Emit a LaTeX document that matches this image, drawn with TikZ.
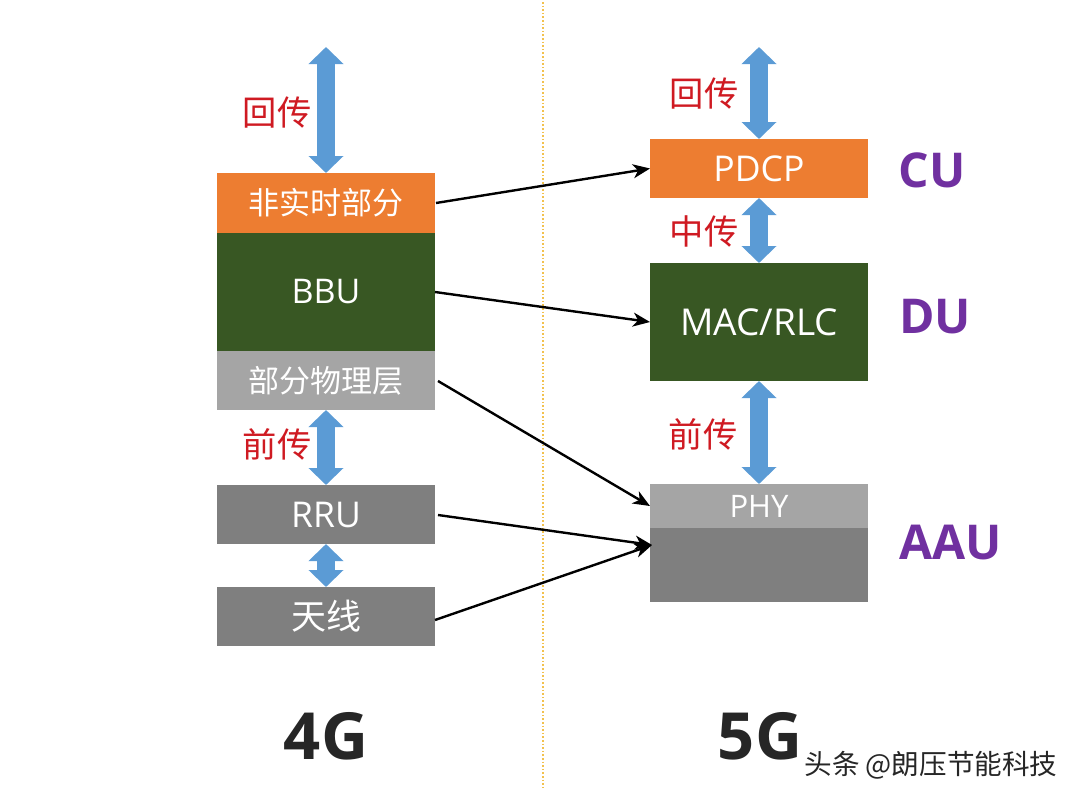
\documentclass[tikz,border=0pt]{standalone}
\usepackage{fontspec}
\setmainfont{Open Sans}
\newfontfamily\cjk{Noto Sans CJK SC}
\usetikzlibrary{arrows.meta}
\definecolor{cOrange}{HTML}{ED7D31}
\definecolor{cGreen}{HTML}{385723}
\definecolor{cLight}{HTML}{A5A5A5}
\definecolor{cDark}{HTML}{7F7F7F}
\definecolor{cBlue}{HTML}{5B9BD5}
\definecolor{cRed}{HTML}{CF1A22}
\definecolor{cPurple}{HTML}{7030A0}
\definecolor{cInk}{HTML}{262626}
\definecolor{cDots}{HTML}{F2C14E}
\newcommand{\lowered}[1]{\raisebox{-1.5pt}{#1}}
\tikzset{
  x=1pt,y=-1pt,
  block/.style={anchor=north west,inner sep=0,outer sep=0,text=white,align=center},
  latin/.style={font=\fontsize{35.5}{37}\selectfont},
  han/.style={font=\fontsize{31}{33}\selectfont\cjk},
  hanbig/.style={font=\fontsize{35}{37}\selectfont\cjk},
  rlabel/.style={text=cRed,inner sep=0,font=\fontsize{34.3}{36}\selectfont\cjk},
  tag/.style={text=cPurple,inner sep=0,font=\fontsize{48}{50}\selectfont\bfseries},
  gen/.style={text=cInk,inner sep=0,font=\fontsize{65}{67}\selectfont\bfseries},
  link/.style={draw=cBlue,line width=18pt,{Triangle[width=34pt,length=17pt,sep=0pt]}-{Triangle[width=34pt,length=17pt,sep=0pt]}},
  feed/.style={draw=black,line width=2.4pt,-{Stealth[length=17pt,width=14pt,inset=5pt]}}
}
\begin{document}
\begin{tikzpicture}
\useasboundingbox (0,0) rectangle (1080,801);
\draw[cDots,line width=1.6pt,dotted] (543,2) coordinate (divtop) -- (543,790) coordinate (divbot);
% 4G column
\node[block,fill=cOrange,minimum width=218pt,minimum height=60pt,han] (nrt) at (217,173) {\lowered{非实时部分}};
\node[block,fill=cGreen,minimum width=218pt,minimum height=118pt,font=\fontsize{34}{36}\selectfont] (bbu) at (217,233) {\lowered{BBU}};
\node[block,fill=cLight,minimum width=218pt,minimum height=59pt,han] (pphy) at (217,351) {部分物理层};
\node[block,fill=cDark,minimum width=218pt,minimum height=59pt,latin] (rru) at (217,485) {RRU};
\node[block,fill=cDark,minimum width=218pt,minimum height=59pt,hanbig] (ant) at (217,587) {\lowered{天线}};
% 5G column
\node[block,fill=cOrange,minimum width=218pt,minimum height=59pt,latin] (pdcp) at (650,139) {PDCP};
\node[block,fill=cGreen,minimum width=218pt,minimum height=118pt,font=\fontsize{37}{39}\selectfont] (mac) at (650,263) {MAC/RLC};
\node[block,fill=cLight,minimum width=218pt,minimum height=44pt,font=\fontsize{31}{33}\selectfont] (phy) at (650,484) {PHY};
\node[block,fill=cDark,minimum width=218pt,minimum height=74pt] (aau) at (650,528) {};
% free ends
\coordinate (backL) at (326,47);
\coordinate (backR) at (759,47);
\coordinate (nrtOut) at (436,203);
\coordinate (pphyOut) at (438,381);
\coordinate (antOut) at (435,620);
\coordinate (rruOut) at (438,515);
\coordinate (aauIn) at (652,545);
% blue links
\draw[link] (backL) -- (nrt.north);
\draw[link] (pphy.south) -- (rru.north);
\draw[link] (rru.south) -- (ant.north);
\draw[link] (backR) -- (pdcp.north);
\draw[link] (pdcp.south) -- (mac.north);
\draw[link] (mac.south) -- (phy.north);
% black arrows
\draw[feed] (nrtOut) -- (pdcp.west);
\draw[feed] (bbu.east) -- (mac.west);
\draw[feed] (pphyOut) -- (phy.west);
\draw[feed] (rruOut) -- (aauIn);
\draw[feed] (antOut) -- (aauIn);
% red labels
\node[rlabel] (l1) at (277,113) {回传};
\node[rlabel] (l2) at (277,444) {前传};
\node[rlabel] (l3) at (704,94) {回传};
\node[rlabel] (l4) at (704,231) {中传};
\node[rlabel] (l5) at (703,434) {前传};
% tags
\node[tag] (cu) at (932,170) {CU};
\node[tag] (du) at (935,317) {DU};
\node[tag] (aaut) at (951,543) {AAU};
% generations
\node[gen] (g4) at (326,736) {4G};
\node[gen] (g5) at (760,736) {5G};
% watermark
\node[inner sep=0,text=cInk,font=\fontsize{27.6}{30}\selectfont\cjk] (wm) at (931,765) {头条 @朗压节能科技};
\end{tikzpicture}
\end{document}
